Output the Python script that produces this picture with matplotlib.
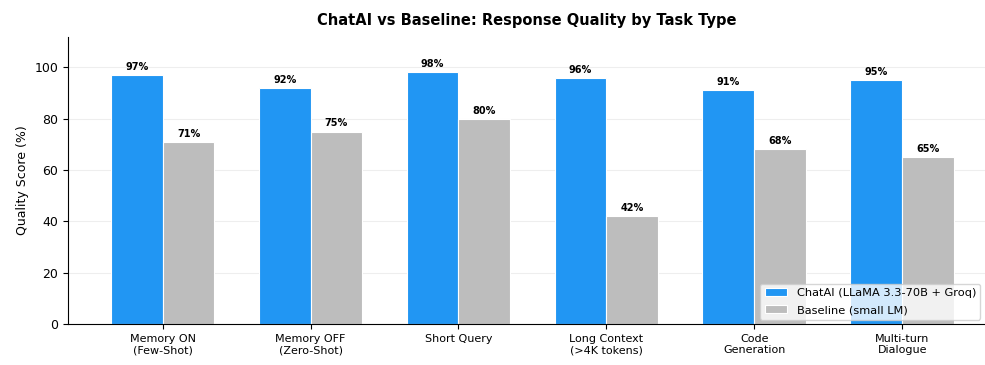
import numpy as np
import matplotlib.pyplot as plt

tasks = ["Memory ON\n(Few-Shot)", "Memory OFF\n(Zero-Shot)", "Short Query",
         "Long Context\n(>4K tokens)", "Code\nGeneration", "Multi-turn\nDialogue"]
chatai = [97, 92, 98, 96, 91, 95]
baseline = [71, 75, 80, 42, 68, 65]

x = np.arange(len(tasks))
w = 0.35

fig, ax = plt.subplots(figsize=(9.85, 3.65), dpi=100)
b1 = ax.bar(x - w/2, chatai, w, color='#2196F3', edgecolor='white', linewidth=0.8,
            label='ChatAI (LLaMA 3.3-70B + Groq)')
b2 = ax.bar(x + w/2, baseline, w, color='#BDBDBD', edgecolor='white', linewidth=0.8,
            label='Baseline (small LM)')

# value labels
for bars in (b1, b2):
    for b in bars:
        ax.text(b.get_x() + b.get_width()/2, b.get_height() + 1.2, f"{int(b.get_height())}%",
                ha='center', va='bottom', fontsize=7, fontweight='bold')

ax.set_xticks(x)
ax.set_xticklabels(tasks, fontsize=8)
ax.set_xlim(-0.64, 5.56)
ax.set_ylim(0, 112)
ax.set_ylabel("Quality Score (%)", fontsize=9)
ax.set_title("ChatAI vs Baseline: Response Quality by Task Type", fontsize=10.5, fontweight='bold', pad=8)
ax.yaxis.grid(True, color='#eeeeee', linewidth=0.8)
ax.set_axisbelow(True)
ax.spines['top'].set_visible(False)
ax.spines['right'].set_visible(False)
ax.tick_params(axis='y', labelsize=9)
ax.legend(loc='lower right', fontsize=8.2, framealpha=0.8, borderaxespad=0.4,
          labelspacing=0.6)

plt.subplots_adjust(left=0.069, right=1.0, top=0.9, bottom=0.112)
plt.savefig("out.png", dpi=100)
